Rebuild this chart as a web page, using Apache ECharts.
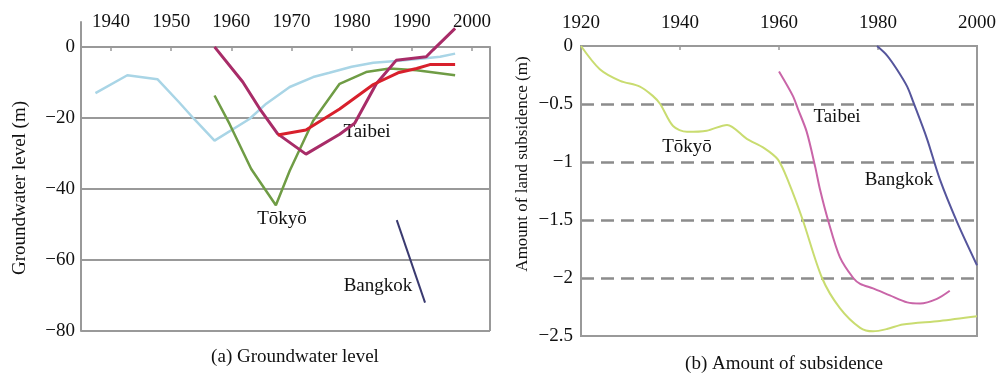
<!DOCTYPE html>
<html><head><meta charset="utf-8">
<script src="https://cdn.jsdelivr.net/npm/echarts@6/dist/echarts.min.js"></script>
<style>html,body{margin:0;padding:0;background:#fff}#c{width:999px;height:374px}</style>
</head><body><div id="c"></div>
<script>
// ---- Panel (a): groundwater level ----
const levelYearTicks = [1940, 1950, 1960, 1970, 1980, 1990, 2000];
const levelTicks = [0, -20, -40, -60, -80];

const blueYears  = [1937.4, 1942.7, 1947.7, 1951.3, 1953.8, 1957.2, 1963.0, 1965.8, 1969.7, 1973.6, 1976.3, 1980.0, 1983.6, 1987.4, 1991.9, 1994.7, 1997.2];
const blueLevels = [-13.0, -8.0, -9.1, -15.6, -20.3, -26.4, -20.3, -16.0, -11.3, -8.5, -7.3, -5.6, -4.5, -4.0, -3.3, -2.8, -1.9];

const taibeiYearsA  = [1957.2, 1961.9, 1964.9, 1967.7, 1972.4, 1978.0, 1980.5, 1984.1, 1987.4, 1992.4, 1993.5, 1997.2];
const taibeiLevelsA = [0, -9.9, -17.9, -24.5, -30.2, -24.6, -21.5, -10.4, -3.8, -2.8, -0.9, 5.2];

const redYears  = [1967.7, 1972.4, 1978.0, 1983.6, 1987.7, 1990.8, 1993.0, 1997.2];
const redLevels = [-24.8, -23.4, -17.5, -10.6, -7.3, -6.1, -5.0, -5.0];

const tokyoYearsA  = [1957.2, 1959.7, 1963.3, 1967.4, 1969.7, 1973.6, 1978.0, 1982.4, 1986.3, 1990.8, 1997.2];
const tokyoLevelsA = [-13.7, -21.7, -34.4, -44.6, -34.9, -20.8, -10.4, -7.1, -6.1, -6.6, -8.0];

const bangkokYearsA  = [1987.5, 1992.2];
const bangkokLevelsA = [-48.8, -72.0];

// ---- Panel (b): amount of subsidence ----
const subsYearTicks = [1920, 1940, 1960, 1980, 2000];
const subsTicks = [0, -0.5, -1, -1.5, -2, -2.5];

const tokyoYearsB = [1920, 1923.8, 1927.9, 1931.9, 1934.5, 1936, 1938.6, 1941.4, 1945.4, 1949.5, 1953.5, 1957, 1959.8, 1962, 1964.8, 1968.7, 1972.3, 1976.4, 1979, 1981.8, 1985, 1992.5, 2000];
const tokyoSubsB  = [0, -0.2, -0.3, -0.35, -0.43, -0.5, -0.69, -0.74, -0.73, -0.68, -0.8, -0.88, -0.98, -1.18, -1.5, -2.0, -2.26, -2.43, -2.46, -2.44, -2.4, -2.37, -2.33];

const taibeiYearsB = [1960, 1962.8, 1963.8, 1965.6, 1967.3, 1968.3, 1969.9, 1972.3, 1975, 1976.4, 1979, 1982.4, 1985.9, 1988.5, 1991.9, 1994.5];
const taibeiSubsB  = [-0.22, -0.43, -0.54, -0.74, -1.04, -1.24, -1.5, -1.82, -2.0, -2.05, -2.09, -2.15, -2.21, -2.22, -2.18, -2.11];

const bangkokYearsB = [1979.8, 1981.8, 1983.8, 1985.9, 1987.1, 1989.9, 1992.5, 1996, 2000];
const bangkokSubsB  = [0, -0.08, -0.2, -0.35, -0.48, -0.8, -1.15, -1.52, -1.89];

const zip = (a, b) => a.map((v, i) => [v, b[i]]);
const FONT = '"Liberation Serif", "Times New Roman", serif';
const minus = v => v === 0 ? '0' : (v < 0 ? '\u2212' + Math.abs(v) : String(v));
const yearFmt = v => String(v);
const GRAY = '#999999';

const chart = echarts.init(document.getElementById('c'), null, {renderer: 'canvas'});

function line(name, xs, ys, color, width, idx, smooth) {
  return {
    name, type: 'line', data: zip(xs, ys), xAxisIndex: idx, yAxisIndex: idx,
    symbol: 'none', smooth: smooth || false, z: 3,
    lineStyle: {color, width}, silent: true
  };
}

const txt = (x, y, text, size, extra) => Object.assign({
  type: 'text', x, y,
  style: {text, font: size + 'px ' + FONT, fill: '#111', textAlign: 'center', textVerticalAlign: 'middle'}
}, extra || {});

const option = {
  animation: false,
  backgroundColor: '#fff',
  grid: [
    {left: 81, top: 22, width: 409, height: 309, outerBoundsMode: 'none', containLabel: false},
    {left: 581, top: 46, width: 396, height: 290, outerBoundsMode: 'none', containLabel: false,
     show: true, borderColor: GRAY, borderWidth: 2}
  ],
  xAxis: [
    {
      type: 'value', gridIndex: 0, position: 'top', min: 1935, max: 2003, offset: -25,
      axisLine: {show: true, onZero: false, lineStyle: {color: GRAY, width: 2}},
      axisTick: {show: true, inside: true, length: 4, customValues: levelYearTicks, lineStyle: {color: GRAY, width: 1.5}},
      axisLabel: {customValues: levelYearTicks, margin: 15, color: '#111', fontFamily: FONT, fontSize: 19, formatter: yearFmt},
      splitLine: {show: false}
    },
    {
      type: 'value', gridIndex: 1, position: 'top', min: 1920, max: 2000, interval: 20,
      axisLine: {show: true, onZero: false, lineStyle: {color: GRAY, width: 2}},
      axisTick: {show: true, inside: true, length: 4, lineStyle: {color: GRAY, width: 1.5}},
      axisLabel: {margin: 13, color: '#111', fontFamily: FONT, fontSize: 19, formatter: yearFmt},
      splitLine: {show: false}
    }
  ],
  yAxis: [
    {
      type: 'value', gridIndex: 0, min: -80, max: 7,
      axisLine: {show: true, onZero: false, lineStyle: {color: GRAY, width: 2}},
      axisTick: {show: false},
      axisLabel: {customValues: levelTicks, margin: 6, color: '#111', fontFamily: FONT, fontSize: 19, formatter: minus},
      splitLine: {show: false}
    },
    {
      type: 'value', gridIndex: 1, min: -2.5, max: 0, interval: 0.5,
      axisLine: {show: true, onZero: false, lineStyle: {color: GRAY, width: 2}},
      axisTick: {show: false},
      axisLabel: {margin: 8, color: '#111', fontFamily: FONT, fontSize: 19, formatter: minus},
      splitLine: {show: true, showMinLine: false, showMaxLine: false, lineStyle: {color: '#8c8c8c', width: 2.5, type: [13, 7]}}
    }
  ],
  series: [
    Object.assign(line('Other city', blueYears, blueLevels, '#a9d5e6', 2.5, 0), {
      markLine: {
        silent: true, symbol: 'none', label: {show: false}, z: 1,
        lineStyle: {color: GRAY, width: 2, type: 'solid'},
        data: levelTicks.map(v => ({yAxis: v})).concat([[{coord: [2003, 0]}, {coord: [2003, -80]}]])
      }
    }),
    line('Tōkyō', tokyoYearsA, tokyoLevelsA, '#6f9c45', 2.5, 0),
    line('Taibei', taibeiYearsA, taibeiLevelsA, '#a82c68', 3, 0),
    line('Taibei2', redYears, redLevels, '#d8202c', 3, 0),
    line('Bangkok', bangkokYearsA, bangkokLevelsA, '#3a3a70', 2, 0),
    line('Tōkyō', tokyoYearsB, tokyoSubsB, '#c9dc70', 2, 1, 0.3),
    line('Taibei', taibeiYearsB, taibeiSubsB, '#c965a8', 2, 1, 0.3),
    line('Bangkok', bangkokYearsB, bangkokSubsB, '#55559c', 2, 1, 0.3)
  ],
  graphic: [
    txt(20, 188, 'Groundwater level (m)', 19, {rotation: Math.PI / 2}),
    txt(523, 164, 'Amount of land subsidence (m)', 17, {rotation: Math.PI / 2}),
    txt(295, 357, '(a) Groundwater level', 19),
    txt(784, 364, '(b) Amount of subsidence', 19),
    txt(367, 132, 'Taibei', 19),
    txt(282, 219, 'Tōkyō', 19),
    txt(378, 286, 'Bangkok', 19),
    txt(687, 147, 'Tōkyō', 19),
    txt(837, 117, 'Taibei', 19),
    txt(899, 180, 'Bangkok', 19)
  ]
};
chart.setOption(option);
</script></body></html>
